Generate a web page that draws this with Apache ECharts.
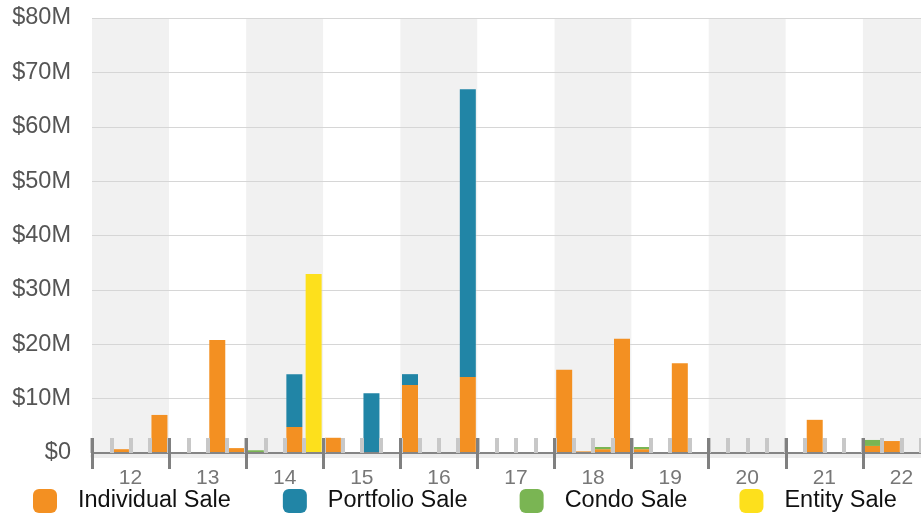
<!DOCTYPE html>
<html>
<head>
<meta charset="utf-8">
<script src="https://cdn.jsdelivr.net/npm/echarts@6/dist/echarts.min.js"></script>
<style>
html,body{margin:0;padding:0;background:#fff;}
#main{width:921px;height:516px;}
</style>
</head>
<body>
<div id="main"></div>
<script>
// Years and quarters
const years = ['12','13','14','15','16','17','18','19','20','21','22'];
const quarters = ['Q1','Q2','Q3','Q4'];
// Values in $M, one per quarter (12Q1 .. 22Q4)
const individualSale = [
  0, 0.7, 0, 7.0,
  0, 0, 20.8, 0.9,
  0, 0, 4.8, 0,
  2.8, 0, 0, 0,
  12.5, 0, 0, 14.0,
  0, 0, 0, 0,
  15.3, 0.3, 0.7, 21.0,
  0.7, 0, 16.5, 0,
  0, 0, 0, 0,
  0, 6.1, 0, 0,
  1.3, 2.2, 0, 0
];
const portfolioSale = [
  0, 0, 0, 0,
  0, 0, 0, 0,
  0, 0, 9.7, 0,
  0, 0, 11.0, 0,
  2.0, 0, 0, 52.9,
  0, 0, 0, 0,
  0, 0, 0, 0,
  0, 0, 0, 0,
  0, 0, 0, 0,
  0, 0, 0, 0,
  0, 0, 0, 0
];
const condoSale = [
  0, 0, 0, 0,
  0, 0, 0, 0,
  0.5, 0, 0, 0,
  0, 0, 0, 0,
  0, 0, 0, 0,
  0, 0, 0, 0,
  0, 0, 0.4, 0,
  0.4, 0, 0, 0,
  0, 0, 0, 0,
  0, 0, 0, 0,
  1.1, 0, 0, 0
];
const entitySale = [
  0, 0, 0, 0,
  0, 0, 0, 0,
  0, 0, 0, 32.9,
  0, 0, 0, 0,
  0, 0, 0, 0,
  0, 0, 0, 0,
  0, 0, 0, 0,
  0, 0, 0, 0,
  0, 0, 0, 0,
  0, 0, 0, 0,
  0, 0, 0, 0
];
const seriesNames = ['Individual Sale','Portfolio Sale','Condo Sale','Entity Sale'];
const seriesColors = ['#F39022','#2185A6','#7AB553','#FDE01C'];
const yTicks = {min: 0, max: 80, interval: 10};

const quarterCats = [];
years.forEach(y => quarters.forEach(q => quarterCats.push(y + q)));

const FONT = "'Liberation Sans', Arial, Helvetica, sans-serif";
const chart = echarts.init(document.getElementById('main'), null, {renderer:'canvas'});
const dataSets = [individualSale, portfolioSale, condoSale, entitySale];

chart.setOption({
  animation: false,
  textStyle: {fontFamily: FONT},
  grid: {left: 92, width: 848, top: 18, bottom: 63, containLabel: false, outerBoundsMode: 'none'},
  legend: {
    left: 33, top: 489, padding: 0,
    itemWidth: 24, itemHeight: 24, itemGap: 52,
    icon: 'roundRect',
    textStyle: {fontSize: 23.5, color: '#111', fontFamily: FONT, padding: [0,0,0,16]},
    data: seriesNames
  },
  xAxis: [
    {
      type: 'category', data: quarterCats, position: 'bottom', z: 5,
      axisLine: {show: true, lineStyle: {color: '#858585', width: 2}},
      axisTick: {show: true, inside: true, length: 15, interval: 0, lineStyle: {color: '#c8c8c8', width: 4}},
      axisLabel: {show: false},
      splitLine: {show: false}
    },
    {
      type: 'category', data: years, position: 'bottom', offset: -15, z: 6,
      axisLine: {show: false},
      axisTick: {show: true, length: 31, interval: 0, lineStyle: {color: '#808080', width: 3}},
      axisLabel: {show: true, interval: 0, margin: 30, fontSize: 21, color: '#777', fontFamily: FONT},
      splitLine: {show: false},
      splitArea: {show: false}
    },
    {
      type: 'category', data: years, position: 'bottom', offset: 3, z: 1,
      axisLine: {show: true, lineStyle: {color: '#ececec', width: 4}},
      axisTick: {show: false},
      axisLabel: {show: false},
      splitLine: {show: false},
      splitArea: {show: true, interval: 0, areaStyle: {color: ['#f1f1f1', '#ffffff']}}
    }
  ],
  yAxis: {
    type: 'value', min: yTicks.min, max: yTicks.max, interval: yTicks.interval, z: 2,
    axisLine: {show: false}, axisTick: {show: false},
    axisLabel: {formatter: v => v === 0 ? '$0' : '$' + v + 'M', fontSize: 23.5, color: '#555', margin: 21, fontFamily: FONT},
    splitLine: {show: true, lineStyle: {color: '#d6d6d6', width: 1}}
  },
  series: seriesNames.map((name, i) => ({
    name: name, type: 'bar', stack: 'total',
    xAxisIndex: 0, barCategoryGap: '17%',
    itemStyle: {color: seriesColors[i]},
    data: dataSets[i].map(v => v === 0 ? null : v),
    z: 3
  }))
});
</script>
</body>
</html>
